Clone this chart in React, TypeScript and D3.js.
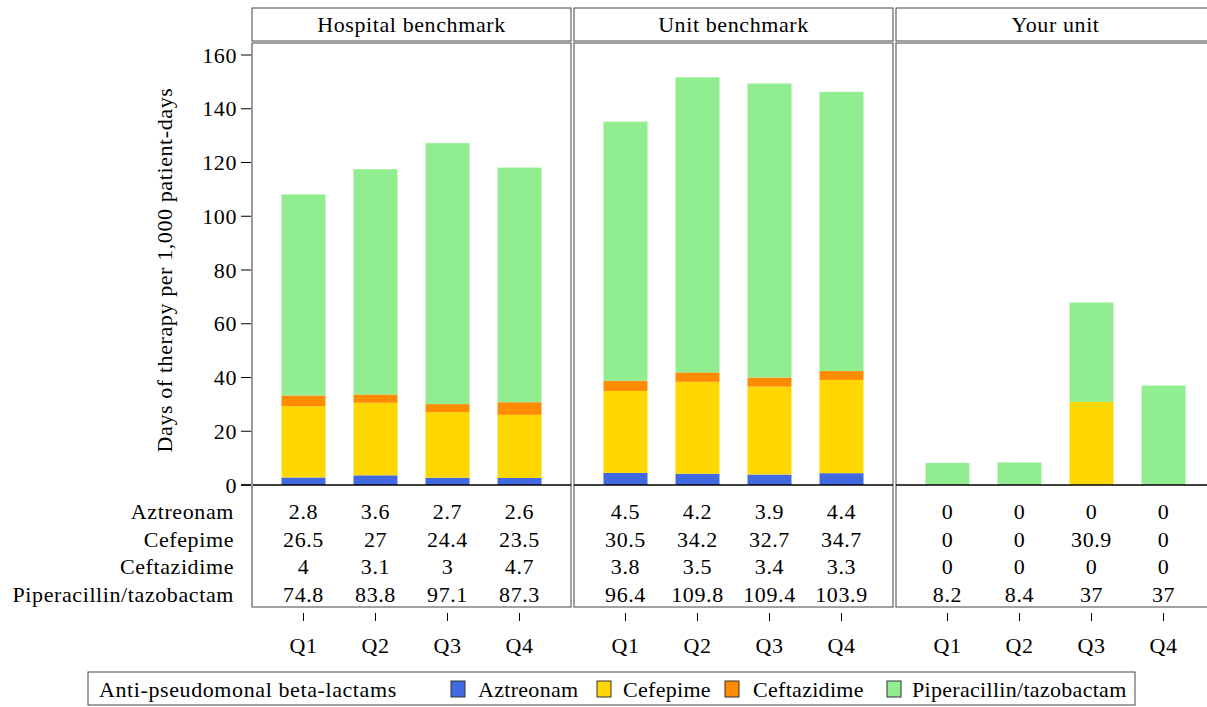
import React from "react";
import { scaleLinear, scalePoint, scaleBand, stack } from "d3";

const quarters = ["Q1", "Q2", "Q3", "Q4"];
const panels = ["Hospital benchmark", "Unit benchmark", "Your unit"];
const drugs = ["Aztreonam", "Cefepime", "Ceftazidime", "Piperacillin/tazobactam"];
const colors = ["#4169E1", "#FFD700", "#FF8C00", "#90EE90"];

// values per panel, per quarter
const aztreonam = [
  [2.8, 3.6, 2.7, 2.6],
  [4.5, 4.2, 3.9, 4.4],
  [0, 0, 0, 0],
];
const cefepime = [
  [26.5, 27, 24.4, 23.5],
  [30.5, 34.2, 32.7, 34.7],
  [0, 0, 30.9, 0],
];
const ceftazidime = [
  [4, 3.1, 3, 4.7],
  [3.8, 3.5, 3.4, 3.3],
  [0, 0, 0, 0],
];
const piperacillin = [
  [74.8, 83.8, 97.1, 87.3],
  [96.4, 109.8, 109.4, 103.9],
  [8.2, 8.4, 37, 37],
];
const yTicks = [0, 20, 40, 60, 80, 100, 120, 140, 160];

const series = [aztreonam, cefepime, ceftazidime, piperacillin];

const T = (props: React.SVGProps<SVGTextElement>) => (
  <text fontSize={22} letterSpacing={0.6} {...props} style={{ fontFamily: "Liberation Serif" }} />
);

export default function App() {
  const width = 1207;
  const height = 707;

  const panelLeft = 252;
  const panelW = 319;
  const panelGap = 3;
  const headerTop = 8;
  const headerBottom = 41;
  const plotTop = 43;
  const zeroY = 485;
  const tableBottom = 607;
  const barW = 44;

  const y = scaleLinear().domain([0, 160]).range([zeroY, 55]);
  const x = scalePoint<string>().domain(quarters).range([0, panelW]).padding(0.715);
  const row = scaleBand<string>().domain(drugs).range([498, 608]);

  const stackGen = stack<Record<string, number>>().keys(drugs);

  // legend layout
  const legendItems = [
    { sw: 451, tx: 478 },
    { sw: 597, tx: 623 },
    { sw: 725, tx: 753 },
    { sw: 887, tx: 912 },
  ];

  return (
    <svg width={width} height={height} style={{ position: "absolute", left: 0, top: 0, background: "#fff" }}>
      {/* y axis */}
      {yTicks.map((t) => (
        <g key={t}>
          <line x1={241} x2={251} y1={y(t)} y2={y(t)} stroke="#000" strokeWidth={1} />
          <T x={237} y={y(t)} dy="0.35em" textAnchor="end">
            {t}
          </T>
        </g>
      ))}
      <T transform={`translate(164, ${(y(0) + y(160)) / 2}) rotate(-90)`} textAnchor="middle" dy="0.35em">
        Days of therapy per 1,000 patient-days
      </T>

      {/* row labels */}
      {drugs.map((d) => (
        <T key={d} x={234} y={row(d)! + row.bandwidth() / 2} dy="0.35em" textAnchor="end">
          {d}
        </T>
      ))}

      {panels.map((p, pi) => {
        const x0 = panelLeft + pi * (panelW + panelGap);
        const rows = quarters.map((q, qi) => {
          const r: Record<string, number> = {};
          drugs.forEach((d, di) => (r[d] = series[di][pi][qi]));
          return r;
        });
        const stacked = stackGen(rows);
        return (
          <g key={p} transform={`translate(${x0},0)`}>
            {/* header */}
            <rect x={0} y={headerTop} width={panelW} height={headerBottom - headerTop} fill="#fff" stroke="#444" />
            <T x={panelW / 2} y={(headerTop + headerBottom) / 2} dy="0.35em" textAnchor="middle">
              {p}
            </T>
            {/* bars */}
            {stacked.map((s, si) =>
              s.map((seg, qi) =>
                seg[1] - seg[0] > 0 ? (
                  <rect
                    key={`${si}-${qi}`}
                    x={x(quarters[qi])! - barW / 2}
                    y={y(seg[1])}
                    width={barW}
                    height={y(seg[0]) - y(seg[1])}
                    fill={colors[si]}
                  />
                ) : null
              )
            )}
            {/* table values */}
            {drugs.map((d, di) =>
              quarters.map((q, qi) => (
                <T key={`${d}-${q}`} x={x(q)!} y={row(d)! + row.bandwidth() / 2} dy="0.35em" textAnchor="middle">
                  {series[di][pi][qi]}
                </T>
              ))
            )}
            {/* panel frame */}
            <rect x={0} y={plotTop} width={panelW} height={tableBottom - plotTop} fill="none" stroke="#444" />
            <line x1={0} x2={panelW} y1={zeroY} y2={zeroY} stroke="#000" strokeWidth={1.5} />
            {/* x ticks and labels */}
            {quarters.map((q) => (
              <g key={q}>
                <line x1={x(q)!} x2={x(q)!} y1={613} y2={621} stroke="#000" />
                <T x={x(q)!} y={645} dy="0.35em" textAnchor="middle">
                  {q}
                </T>
              </g>
            ))}
          </g>
        );
      })}
      <line x1={241} x2={panelLeft} y1={zeroY} y2={zeroY} stroke="#000" strokeWidth={1.5} />
      <line x1={panelLeft} x2={panelLeft} y1={plotTop} y2={tableBottom} stroke="#999" strokeWidth={2} />

      {/* legend */}
      <rect x={88} y={672} width={1047} height={33} fill="#fff" stroke="#444" />
      <T x={99} y={689} dy="0.35em" letterSpacing={0.6}>
        Anti-pseudomonal beta-lactams
      </T>
      {drugs.map((d, di) => (
        <g key={d}>
          <rect x={legendItems[di].sw} y={681} width={14} height={16} fill={colors[di]} stroke="#333" />
          <T x={legendItems[di].tx} y={689} dy="0.35em" letterSpacing={0.3}>
            {d}
          </T>
        </g>
      ))}
    </svg>
  );
}
